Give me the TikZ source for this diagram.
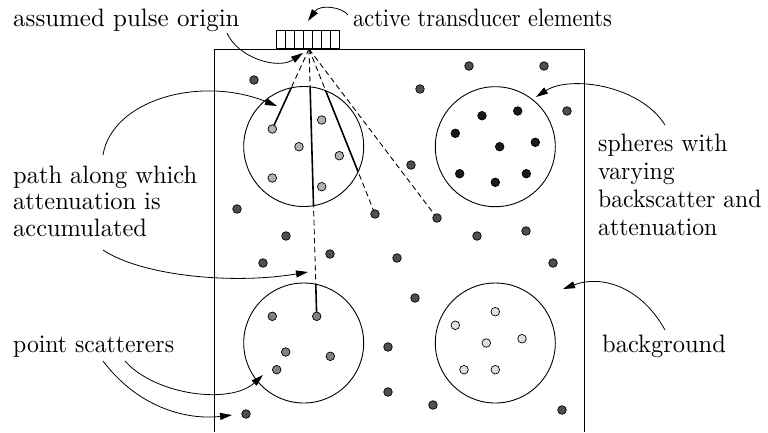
\documentclass[tikz,border=0pt]{standalone}
\usepackage{fontspec}
\setmainfont{lmroman10-regular}[Extension=.otf, FakeStretch=0.94]
\newfontfamily\lmwide{lmroman10-regular}[Extension=.otf, FakeStretch=0.99]
\newfontfamily\lmmid{lmroman10-regular}[Extension=.otf, FakeStretch=0.97]
\newfontfamily\lmnarrow{lmroman10-regular}[Extension=.otf, FakeStretch=0.885]
\usetikzlibrary{arrows.meta,calc}
\pgfdeclarelayer{background}
\pgfsetlayers{background,main}
\definecolor{bgdot}{gray}{0.31}
\definecolor{lightdot}{gray}{0.70}
\definecolor{darkdot}{gray}{0.10}
\definecolor{middot}{gray}{0.50}
\definecolor{palecdot}{gray}{0.88}
\begin{document}
\begin{tikzpicture}[x=1pt,y=-1pt,
  lbl/.style={anchor=base west, inner sep=0pt, font=\fontsize{25.2}{28}\selectfont},
  scat/.style={circle, draw=black, line width=0.7pt, inner sep=0pt, minimum size=8.6pt},
  bgs/.style={scat, fill=bgdot},
  s1s/.style={scat, fill=lightdot},
  s2s/.style={scat, fill=darkdot},
  s3s/.style={scat, fill=middot},
  s4s/.style={scat, fill=palecdot},
  sphere/.style={circle, draw, line width=0.9pt, minimum size=120pt, inner sep=0pt},
  ray/.style={line width=0.9pt, dash pattern=on 5.5pt off 3.5pt},
  hit/.style={line width=1.6pt},
  pointer/.style={line width=0.8pt, -{Triangle[length=12pt,width=7pt]}}
]
\useasboundingbox (0,0) rectangle (768,432);

% phantom box
\coordinate (boxbl) at (214,432);
\coordinate (boxtl) at (214,49);
\coordinate (boxtr) at (584,49);
\coordinate (boxbr) at (584,432);
\draw[line width=0.9pt] (boxbl) -- (boxtl) -- (boxtr) -- (boxbr);

% transducer array
\node[draw, line width=0.8pt, fill=white, minimum width=62.6pt, minimum height=18pt,
      inner sep=0pt, anchor=south] (probe) at (308,49) {};
\foreach \i in {1,...,6}
  \draw[line width=0.8pt] ($(probe.south west)!\i/7!(probe.south east)$)
                        -- ($(probe.north west)!\i/7!(probe.north east)$);
\coordinate (O) at (309,49);

% spheres
\node[sphere] (sA) at (303.7,146.5) {};
\node[sphere] (sB) at (495.3,146.7) {};
\node[sphere] (sC) at (303.7,343) {};
\node[sphere] (sD) at (495.3,343) {};

% scatterers inside the spheres
\foreach \n/\p in {a1/{(272.3,129)}, a2/{(321.7,120)}, a3/{(299,146.7)},
                   a4/{(339.3,155.7)}, a5/{(272.3,178)}, a6/{(321.7,186.7)}}
  \node[s1s] (\n) at \p {};
\foreach \n/\p in {b1/{(482,115.7)}, b2/{(517.7,111)}, b3/{(455.3,133.3)},
                   b4/{(499.7,146.7)}, b5/{(535.3,142.3)}, b6/{(459.7,173.7)},
                   b7/{(495.3,182.3)}, b8/{(526.3,173.7)}}
  \node[s2s] (\n) at \p {};
\foreach \n/\p in {c1/{(272.3,316.3)}, c2/{(316.7,316.3)}, c3/{(285.7,352)},
                   c4/{(330.3,356.3)}, c5/{(276.7,369.7)}}
  \node[s3s] (\n) at \p {};
\foreach \n/\p in {e1/{(495.3,311.7)}, e2/{(455.3,325.3)}, e3/{(522,338.7)},
                   e4/{(486.3,343)}, e5/{(464,369.7)}, e6/{(495.3,369.7)}}
  \node[s4s] (\n) at \p {};

% background scatterers
\foreach \n/\p in {g1/{(254,80)}, g2/{(469,66)}, g3/{(544,66)}, g4/{(420,89)},
                   g5/{(567,111)}, g6/{(411,165)}, g7/{(437,218)}, g8/{(477,236)},
                   g9/{(526,231)}, g10/{(237,209)}, g11/{(375,214)}, g12/{(286,236)},
                   g13/{(330,254)}, g14/{(397,258)}, g15/{(263,263)}, g16/{(415,298)},
                   g17/{(553,263)}, g18/{(388,347)}, g19/{(388,392)}, g20/{(246,414)},
                   g21/{(433,405)}, g22/{(562,410)}}
  \node[bgs] (\n) at \p {};

% rays from the pulse origin: dashed outside, solid inside the spheres
\begin{pgfonlayer}{background}
  \draw[ray] (O) -- (a1.center);
  \draw[ray] (O) -- (c2.center);
  \draw[ray] (O) -- (g11.center);
  \draw[ray] (O) -- (g7.center);
  \begin{scope}
    \clip (sA.center) circle[radius=60pt];
    \fill[white] (sA.center) circle[radius=60pt];
    \draw[hit] (O) -- (a1.center);
    \draw[hit] (O) -- (c2.center);
    \draw[hit] (O) -- (g11.center);
  \end{scope}
  \begin{scope}
    \clip (sC.center) circle[radius=60pt];
    \fill[white] (sC.center) circle[radius=60pt];
    \draw[hit] (O) -- (c2.center);
  \end{scope}
\end{pgfonlayer}

% labels
\node[lbl] (origin) at (13,26) {\lmwide assumed pulse origin};
\node[lbl] (active) at (353,26) {\lmnarrow active transducer elements};
\node[lbl] (pathA) at (13,183) {\lmmid path along which};
\node[lbl] (pathB) at (13,209.5) {\lmmid attenuation is};
\node[lbl] (pathC) at (13,236) {\lmmid accumulated};
\node[lbl] (point) at (13,352) {point scatterers};
\node[lbl] (sphA) at (598,151) {spheres with};
\node[lbl] (sphB) at (598,179) {varying};
\node[lbl] (sphC) at (598,207.5) {backscatter and};
\node[lbl] (sphD) at (598,235.5) {attenuation};
\node[lbl] (backg) at (602,352) {\lmmid background};

% pointer arrows
\coordinate (q1) at (227,33);    \coordinate (t1) at (303,53);
\coordinate (q2) at (348,15);    \coordinate (t2) at (308,21);
\coordinate (q3) at (103,155);   \coordinate (t3) at (277,106);
\coordinate (q4) at (103,250);   \coordinate (t4) at (308,272);
\coordinate (q5) at (125,361);   \coordinate (t5) at (263,375);
\coordinate (q6) at (103,361);   \coordinate (t6) at (232,415);
\coordinate (q7) at (665,125);   \coordinate (t7) at (536,97);
\coordinate (q8) at (665,330);   \coordinate (t8) at (563,289);
\draw[pointer] (q1) .. controls (238,58) and (278,70) .. (t1);
\draw[pointer] (q2) .. controls (342,7) and (320,4) .. (t2);
\draw[pointer] (q3) .. controls (112,100) and (200,75) .. (t3);
\draw[pointer] (q4) .. controls (140,275) and (230,285) .. (t4);
\draw[pointer] (q5) .. controls (155,395) and (230,405) .. (t5);
\draw[pointer] (q6) .. controls (140,410) and (190,420) .. (t6);
\draw[pointer] (q7) .. controls (640,85) and (570,75) .. (t7);
\draw[pointer] (q8) .. controls (640,285) and (600,275) .. (t8);
\end{tikzpicture}
\end{document}
